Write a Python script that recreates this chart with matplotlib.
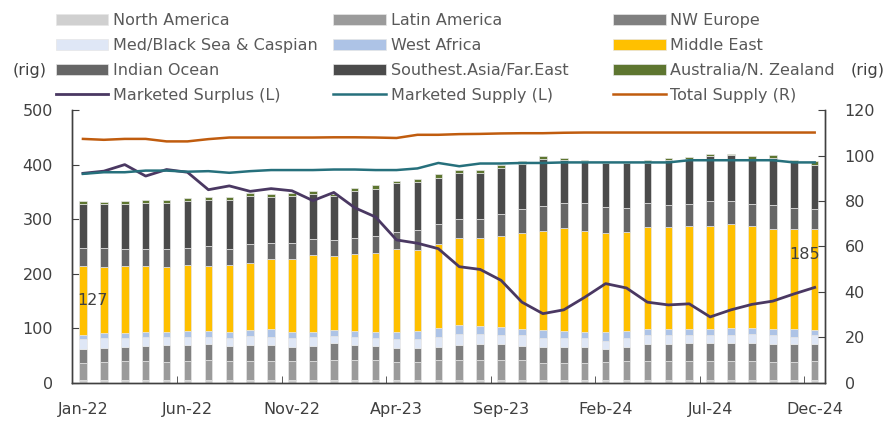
import numpy as np
import matplotlib
matplotlib.use("Agg")
import matplotlib.pyplot as plt
from matplotlib.ticker import FixedLocator, NullFormatter

plt.rcParams['font.family'] = ['DejaVu Sans']

months = ["Jan-22", "Feb-22", "Mar-22", "Apr-22", "May-22", "Jun-22", "Jul-22", "Aug-22", "Sep-22",
          "Oct-22", "Nov-22", "Dec-22", "Jan-23", "Feb-23", "Mar-23", "Apr-23", "May-23", "Jun-23",
          "Jul-23", "Aug-23", "Sep-23", "Oct-23", "Nov-23", "Dec-23", "Jan-24", "Feb-24", "Mar-24",
          "Apr-24", "May-24", "Jun-24", "Jul-24", "Aug-24", "Sep-24", "Oct-24", "Nov-24", "Dec-24"]

# rig counts by region
north_america = [5, 5, 5, 5, 5, 5, 5, 5, 5, 5, 5, 5, 5, 5, 5, 5, 5, 5,
                 5, 5, 5, 5, 5, 5, 5, 5, 5, 5, 5, 5, 5, 5, 5, 5, 5, 5]
latin_america = [32, 34, 35, 35, 34, 35, 38, 35, 35, 35, 35, 35, 38, 37, 37, 34, 34, 38,
                 38, 38, 37, 37, 32, 32, 32, 34, 35, 35, 35, 35, 35, 35, 35, 34, 33, 35]
nw_europe = [25, 25, 26, 28, 31, 30, 29, 28, 30, 30, 26, 28, 31, 28, 26, 25, 25, 22,
             27, 28, 29, 26, 29, 28, 28, 23, 26, 31, 31, 33, 34, 34, 34, 32, 33, 31]
med_caspian = [18, 19, 17, 17, 15, 15, 13, 15, 16, 15, 16, 16, 12, 15, 14, 16, 16, 19,
               20, 19, 16, 19, 17, 18, 18, 15, 16, 17, 16, 15, 14, 14, 15, 16, 13, 16]
west_africa = [8, 8, 8, 9, 9, 10, 10, 10, 11, 13, 11, 9, 11, 10, 11, 13, 15, 17,
               16, 14, 16, 12, 14, 13, 11, 17, 14, 11, 11, 11, 10, 13, 12, 11, 14, 10]
middle_east = [127, 122, 124, 121, 119, 121, 120, 123, 123, 129, 135, 141, 136, 142, 146, 152, 148, 153,
               160, 162, 167, 176, 181, 187, 185, 181, 181, 186, 187, 188, 190, 190, 186, 184, 184, 185]
indian_ocean = [32, 35, 31, 31, 33, 32, 36, 30, 34, 30, 29, 29, 29, 28, 30, 31, 37, 38,
                35, 35, 39, 43, 46, 46, 50, 48, 44, 45, 41, 40, 45, 42, 40, 44, 38, 36]
se_asia = [80, 80, 82, 84, 84, 85, 84, 89, 88, 84, 85, 83, 80, 86, 87, 90, 88, 83,
           83, 83, 85, 84, 86, 79, 77, 80, 82, 73, 82, 83, 82, 84, 84, 87, 85, 82]
australia = [6, 3, 5, 5, 5, 6, 5, 5, 6, 5, 6, 6, 5, 6, 6, 4, 5, 7,
             6, 6, 5, 5, 5, 5, 3, 2, 2, 5, 5, 4, 4, 2, 4, 4, 3, 6]

marketed_surplus = [384, 388, 400, 379, 391, 386, 354, 361, 351, 356, 352, 334, 349, 321, 304, 262, 256, 246,
                    213, 208, 188, 148, 127, 134, 157, 182, 174, 148, 143, 145, 121, 134, 144, 150, 163, 175]
marketed_supply = [383, 386, 386, 389, 389, 387, 388, 385, 388, 390, 390, 390, 391, 391, 390, 390, 393, 403,
                   397, 402, 402, 403, 403, 404, 404, 404, 404, 404, 404, 408, 408, 408, 408, 408, 404, 404]
total_supply = [107.3, 106.9, 107.3, 107.3, 106.2, 106.2, 107.2, 107.9, 107.9, 107.9, 107.9, 107.9,
                108.0, 108.0, 107.9, 107.7, 109.1, 109.1, 109.4, 109.5, 109.7, 109.8, 109.8, 110.0,
                110.1, 110.1, 110.1, 110.1, 110.1, 110.1, 110.1, 110.1, 110.1, 110.1, 110.1, 110.1]

regions = [
    ("North America", north_america, "#d0d0d0"),
    ("Latin America", latin_america, "#9b9b9b"),
    ("NW Europe", nw_europe, "#808080"),
    ("Med/Black Sea & Caspian", med_caspian, "#dfe7f6"),
    ("West Africa", west_africa, "#adc3e6"),
    ("Middle East", middle_east, "#ffc000"),
    ("Indian Ocean", indian_ocean, "#666666"),
    ("Southest.Asia/Far.East", se_asia, "#4b4b4b"),
    ("Australia/N. Zealand", australia, "#5e7630"),
]

txt = "#404040"
fig = plt.figure(figsize=(8.96, 4.21), dpi=100)
ax = fig.add_axes([0.0809, 0.0903, 0.84, 0.6484])
ax2 = ax.twinx()

x = np.arange(len(months))
bottom = np.zeros(len(months))
handles = {}
for name, vals, col in regions:
    vals = np.array(vals, dtype=float)
    b = ax.bar(x, vals, 0.36, bottom=bottom, color=col, edgecolor="#e6e6e6", linewidth=0.5, label=name, zorder=2)
    handles[name] = b
    if name == "Middle East":
        me_bottom = bottom.copy()
    bottom += vals

l1, = ax.plot(x, marketed_surplus, color="#4a3862", lw=2.0, label="Marketed Surplus (L)", zorder=4)
l2, = ax.plot(x, marketed_supply, color="#26707c", lw=1.8, label="Marketed Supply (L)", zorder=4)
l3, = ax2.plot(x, total_supply, color="#c05c0e", lw=1.8, label="Total Supply (R)", zorder=4)
handles["Marketed Surplus (L)"] = l1
handles["Marketed Supply (L)"] = l2
handles["Total Supply (R)"] = l3

# data labels on the Middle East segment (first and last month)
ax.annotate(str(middle_east[0]), (x[0], me_bottom[0] + middle_east[0] / 2), xytext=(7, 0),
            textcoords="offset points", ha="center", va="center", fontsize=11.5, color=txt, zorder=5)
ax.annotate(str(middle_east[-1]), (x[-1], me_bottom[-1] + middle_east[-1] / 2), xytext=(-7, 18),
            textcoords="offset points", ha="center", va="center", fontsize=11.5, color=txt, zorder=5)

ax.set_xlim(-0.5, len(months) - 0.5)
ax.set_ylim(0, 500)
ax2.set_ylim(0, 120)
ax.set_yticks(np.arange(0, 501, 100))
ax2.set_yticks(np.arange(0, 121, 20))

ax.set_xticks(x[::5])
ax.set_xticklabels(months[::5])
ax.xaxis.set_minor_locator(FixedLocator(np.arange(4.5, len(months), 5)))
ax.xaxis.set_minor_formatter(NullFormatter())
ax.tick_params(axis="x", which="major", length=0, pad=14, labelsize=11.5, labelcolor=txt)
ax.tick_params(axis="x", which="minor", length=5, direction="in", color="#404040")
ax.tick_params(axis="y", direction="in", length=5, pad=14, labelsize=11.5, labelcolor=txt, color="#404040")
ax2.tick_params(axis="y", direction="in", length=5, pad=14, labelsize=11.5, labelcolor=txt, color="#404040")

for a in (ax, ax2):
    a.spines["top"].set_visible(False)
    for s in ("left", "right", "bottom"):
        a.spines[s].set_color("#404040")
        a.spines[s].set_linewidth(1.0)

# legend: three columns, row-major order as in the original
cols = [
    ["North America", "Med/Black Sea & Caspian", "Indian Ocean", "Marketed Surplus (L)"],
    ["Latin America", "West Africa", "Southest.Asia/Far.East", "Marketed Supply (L)"],
    ["NW Europe", "Middle East", "Australia/N. Zealand", "Total Supply (R)"],
]
col_x = [0.062, 0.372, 0.684]
for names, cx in zip(cols, col_x):
    fig.legend([handles[n] for n in names], names, loc="upper left", bbox_to_anchor=(cx, 0.969),
               frameon=False, fontsize=11.5, labelcolor="#595959", handlelength=3.3,
               handleheight=0.65, handletextpad=0.3, labelspacing=0.62, borderpad=0.0,
               borderaxespad=0.0)

fig.text(0.033, 0.833, "(rig)", ha="center", va="center", fontsize=11.5, color=txt)
fig.text(0.968, 0.833, "(rig)", ha="center", va="center", fontsize=11.5, color=txt)

fig.savefig("out.png", dpi=100)
